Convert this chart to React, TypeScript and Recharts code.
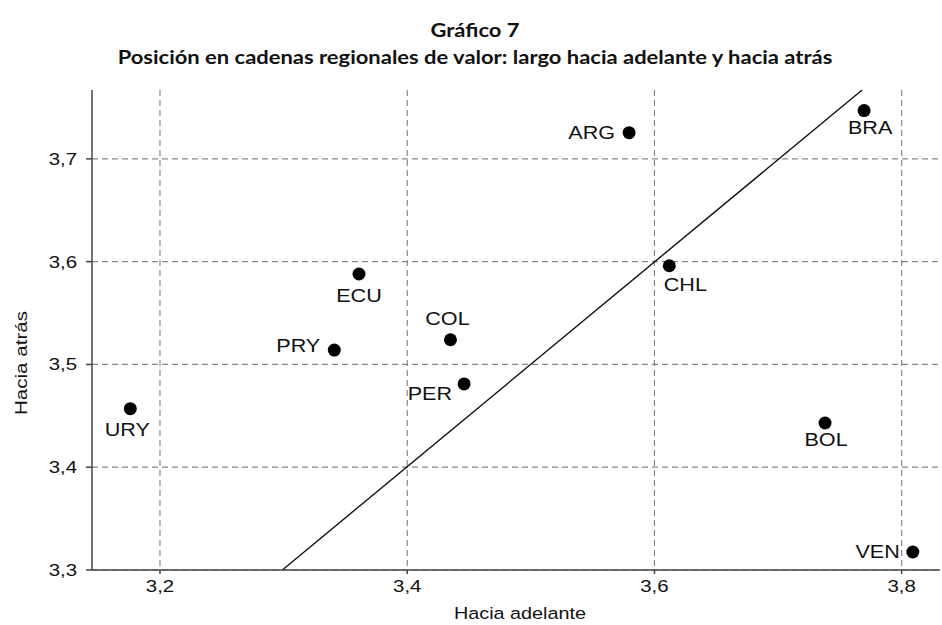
import {
  ScatterChart,
  Scatter,
  XAxis,
  YAxis,
  CartesianGrid,
  ReferenceLine,
  Label,
} from "recharts";

// Países y sus posiciones (hacia adelante, hacia atrás)
const countries = ["URY", "PRY", "ECU", "COL", "PER", "ARG", "CHL", "BRA", "BOL", "VEN"];
const forward = [3.176, 3.341, 3.361, 3.435, 3.446, 3.5795, 3.612, 3.7696, 3.738, 3.809];
const backward = [3.457, 3.514, 3.588, 3.524, 3.481, 3.7255, 3.596, 3.747, 3.443, 3.3175];

const xTicks = [3.2, 3.4, 3.6, 3.8];
const yTicks = [3.3, 3.4, 3.5, 3.6, 3.7];

// recta de referencia (extremos)
const fitX = [3.299, 3.768];
const fitY = [3.3, 3.767];

// where each label sits relative to its dot
const labelPos: { [k: string]: { dx: number; dy: number; anchor: string } } = {
  URY: { dx: -3, dy: 27, anchor: "middle" },
  PRY: { dx: -14, dy: 2, anchor: "end" },
  ECU: { dx: 0, dy: 28, anchor: "middle" },
  COL: { dx: -3, dy: -15, anchor: "middle" },
  PER: { dx: -12, dy: 16, anchor: "end" },
  ARG: { dx: -14, dy: 6, anchor: "end" },
  CHL: { dx: 16, dy: 25, anchor: "middle" },
  BRA: { dx: 6, dy: 23, anchor: "middle" },
  BOL: { dx: 1, dy: 23, anchor: "middle" },
  VEN: { dx: -13, dy: 6, anchor: "end" },
};

const data = countries.map((c, i) => ({ name: c, x: forward[i], y: backward[i] }));

const fmt = (v: number) => v.toFixed(1).replace(".", ",");

const FONT = "'Liberation Sans', Arial, sans-serif";
const STRETCH = 1.2; // the original text is drawn a bit wide

const Dot = (props: any) => {
  const { cx, cy, payload } = props;
  const p = labelPos[payload.name];
  return (
    <g>
      <circle cx={cx} cy={cy} r={6.5} fill="#000" />
      <text
        transform={`translate(${cx + p.dx},${cy + p.dy}) scale(${STRETCH},1)`}
        textAnchor={p.anchor}
        fontSize={18}
        fontFamily={FONT}
        fill="#111"
      >
        {payload.name}
      </text>
    </g>
  );
};

const XTick = (props: any) => {
  const { x, y, payload } = props;
  return (
    <text
      transform={`translate(${x},${y}) scale(${STRETCH},1)`}
      textAnchor="middle"
      dy="0.71em"
      fontSize={17}
      fontFamily={FONT}
      fill="#111"
    >
      {fmt(payload.value)}
    </text>
  );
};

const YTick = (props: any) => {
  const { x, y, payload } = props;
  return (
    <text
      transform={`translate(${x},${y}) scale(${STRETCH},1)`}
      textAnchor="end"
      dy="0.355em"
      fontSize={17}
      fontFamily={FONT}
      fill="#111"
    >
      {fmt(payload.value)}
    </text>
  );
};

export default function App() {
  return (
    <div style={{ position: "absolute", left: 0, top: 0, width: 942, height: 625, background: "#fff", overflow: "hidden" }}>
      <div
        style={{
          position: "absolute",
          left: 0,
          top: 17,
          width: 950,
          textAlign: "center",
          fontFamily: "Lato, sans-serif",
          fontWeight: 700,
          fontSize: 18,
          lineHeight: "27px",
          color: "#111",
          transform: "scaleX(1.22)",
          transformOrigin: "475px 0",
        }}
      >
        <div>Gráfico 7</div>
        <div>Posición en cadenas regionales de valor: largo hacia adelante y hacia atrás</div>
      </div>
      <ScatterChart
        width={942}
        height={625}
        margin={{ top: 90, right: 2, bottom: 0, left: 0 }}
        style={{ position: "absolute", left: 0, top: 0 }}
      >
        <CartesianGrid
          stroke="#888"
          strokeDasharray="6 4"
          strokeWidth={1.2}
          horizontalValues={yTicks}
          verticalValues={xTicks}
        />
        <XAxis
          type="number"
          dataKey="x"
          domain={[3.145, 3.831]}
          ticks={xTicks}
          height={55}
          tickSize={4}
          tickMargin={6}
          stroke="#444"
          strokeWidth={1.5}
          tick={<XTick />}
          allowDataOverflow
        >
          <Label
            content={(props: any) => {
              const vb = props.viewBox;
              const cx = vb.x + vb.width / 2 + 4;
              return (
                <text
                  transform={`translate(${cx},619) scale(${STRETCH},1)`}
                  textAnchor="middle"
                  fontSize={16.5}
                  fontFamily={FONT}
                  fill="#111"
                >
                  Hacia adelante
                </text>
              );
            }}
          />
        </XAxis>
        <YAxis
          type="number"
          dataKey="y"
          domain={[3.3, 3.767]}
          ticks={yTicks}
          width={92}
          tickSize={6}
          tickMargin={9}
          stroke="#444"
          strokeWidth={1.5}
          tick={<YTick />}
          allowDataOverflow
        >
          <Label
            content={() => (
              <text
                transform={`translate(27,363) rotate(-90) scale(1.25,1)`}
                textAnchor="middle"
                fontSize={16.5}
                fontFamily={FONT}
                fill="#111"
              >
                Hacia atrás
              </text>
            )}
          />
        </YAxis>
        <ReferenceLine
          segment={[
            { x: fitX[0], y: fitY[0] },
            { x: fitX[1], y: fitY[1] },
          ]}
          stroke="#111"
          strokeWidth={1.4}
          ifOverflow="visible"
        />
        <Scatter data={data} shape={<Dot />} isAnimationActive={false} />
      </ScatterChart>
    </div>
  );
}
